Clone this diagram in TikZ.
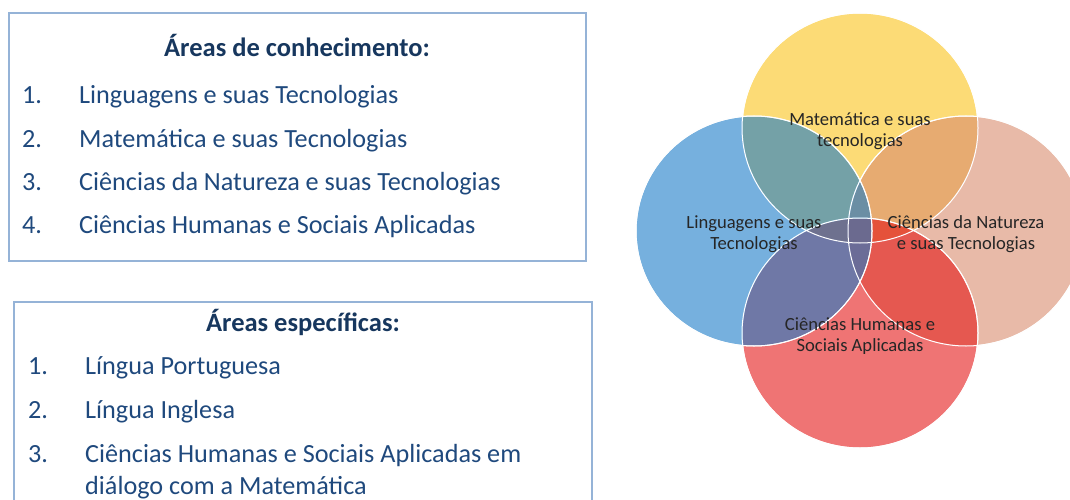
\documentclass[tikz,border=0pt]{standalone}
\usepackage{fontspec}
\setmainfont{Carlito}
\usepackage{xcolor}
\usetikzlibrary{positioning}
\definecolor{boxline}{HTML}{95B3D7}
\definecolor{listblue}{HTML}{1F497D}
\definecolor{titleblue}{HTML}{17375E}
\definecolor{mathyellow}{HTML}{FAC31A}
\definecolor{langblue}{HTML}{1A7BC8}
\definecolor{natsalmon}{HTML}{D98C6E}
\definecolor{humred}{HTML}{E41717}

\begin{document}
\begin{tikzpicture}[x=1pt, y=-1pt,
	areabox/.style={draw=boxline, line width=1.5pt},
	boxtitle/.style={font=\fontsize{26.5}{30}\selectfont\bfseries, text=titleblue, anchor=base, inner sep=0pt},
	item/.style={font=\fontsize{26.2}{33}\selectfont, text=listblue, anchor=base west, inner sep=0pt},
	venn/.style={draw=white, line width=1pt, fill opacity=0.6},
	venntext/.style={font=\fontsize{18.6}{21}\selectfont, align=center, text=black!85}]
	\useasboundingbox (0,0) rectangle (1070,500);
	\clip (0,0) rectangle (1070,500);

	% first box
	\draw[areabox] (9,13) rectangle (586,261);
	\node[boxtitle] (conhec) at (297,57) {Áreas de conhecimento:};
	\foreach \n/\txt [count=\i] in {1/Linguagens e suas Tecnologias, 2/Matemática e suas Tecnologias,
		3/Ciências da Natureza e suas Tecnologias, 4/Ciências Humanas e Sociais Aplicadas} {
		\node[item] (cnum\i) at (22,{61+43*\i}) {\n.};
		\node[item] (ctxt\i) at (79,{61+43*\i}) {\txt};
	}

	% second box
	\draw[areabox] (14,302) rectangle (592,530);
	\node[boxtitle] (espec) at (303,331) {Áreas específicas:};
	\node[item] (enum1) at (28,374) {1.};
	\node[item] (etxt1) at (85,374) {Língua Portuguesa};
	\node[item] (enum2) at (28,418) {2.};
	\node[item] (etxt2) at (85,418) {Língua Inglesa};
	\node[item] (enum3) at (28,462) {3.};
	\node[item] (etxt3) at (85,462) {Ciências Humanas e Sociais Aplicadas em};
	\node[item] (etxt3b) at (85,494) {diálogo com a Matemática};

	% venn circles
	\fill[venn, fill=mathyellow] (860,128) ellipse [x radius=118pt, y radius=115pt];
	\fill[venn, fill=natsalmon] (966,231) ellipse [x radius=118pt, y radius=115pt];
	\fill[venn, fill=humred] (860,333) ellipse [x radius=118pt, y radius=115pt];
	\fill[venn, fill=langblue] (754,231) ellipse [x radius=118pt, y radius=115pt];
	\draw[white, line width=1pt] (860,128) ellipse [x radius=118pt, y radius=115pt]
		(966,231) ellipse [x radius=118pt, y radius=115pt]
		(860,333) ellipse [x radius=118pt, y radius=115pt]
		(754,231) ellipse [x radius=118pt, y radius=115pt];

	\node[venntext] (mat) at (860,131) {Matemática e suas\\tecnologias};
	\node[venntext] (lin) at (754,234) {Linguagens e suas\\Tecnologias};
	\node[venntext] (nat) at (966,234) {Ciências da Natureza\\e suas Tecnologias};
	\node[venntext] (hum) at (860,336) {Ciências Humanas e\\Sociais Aplicadas};
\end{tikzpicture}
\end{document}
